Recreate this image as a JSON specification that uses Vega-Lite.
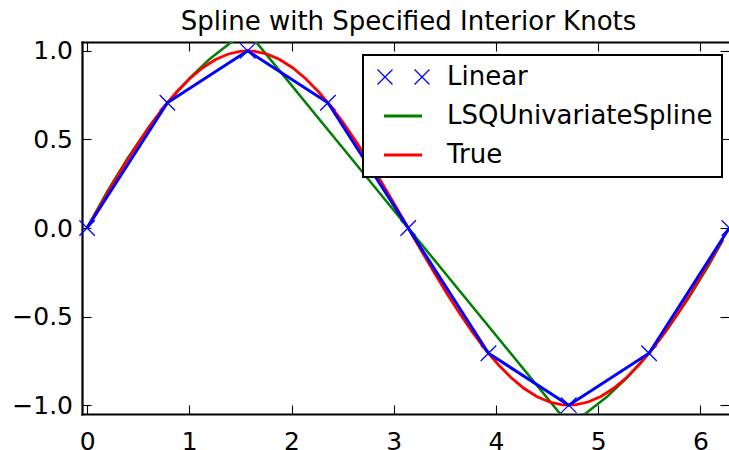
{
  "$schema": "https://vega.github.io/schema/vega-lite/v6.json",
  "width": 647,
  "height": 372,
  "autosize": {"type": "none"},
  "padding": {"left": 82, "top": 42, "right": 0, "bottom": 36},
  "background": "white",
  "title": {"text": "Spline with Specified Interior Knots", "font": "DejaVu Sans", "fontSize": 26, "fontWeight": "normal", "color": "black", "anchor": "middle", "baseline": "alphabetic", "offset": -17, "dx": 3},
  "config": {
    "view": {"stroke": null},
    "axis": {"labelFont": "DejaVu Sans", "labelFontSize": 25, "labelColor": "black", "tickColor": "black", "tickWidth": 1.1, "tickSize": -9, "domainColor": "black", "domainWidth": 2.2, "domainCap": "square", "grid": false, "title": null},
    "legend": {"labelFont": "DejaVu Sans", "labelFontSize": 26, "labelColor": "black", "labelLimit": 500, "padding": 9, "rowPadding": 13, "strokeColor": "black", "fillColor": "white", "strokeWidth": 2, "cornerRadius": 0, "symbolSize": 4, "labelOffset": 49}
  },
  "datasets": {
    "lin": [
      {"series": "Linear", "x": 0, "y": 0},
      {"series": "Linear", "x": 0.7854, "y": 0.7071},
      {"series": "Linear", "x": 1.5708, "y": 1},
      {"series": "Linear", "x": 2.3562, "y": 0.7071},
      {"series": "Linear", "x": 3.1416, "y": 0},
      {"series": "Linear", "x": 3.927, "y": -0.7071},
      {"series": "Linear", "x": 4.7124, "y": -1},
      {"series": "Linear", "x": 5.4978, "y": -0.7071},
      {"series": "Linear", "x": 6.2832, "y": 0}
    ],
    "lsq": [
      {"series": "LSQUnivariateSpline", "x": 0, "y": 0.001},
      {"series": "LSQUnivariateSpline", "x": 0.2, "y": 0.2091},
      {"series": "LSQUnivariateSpline", "x": 0.4, "y": 0.3975},
      {"series": "LSQUnivariateSpline", "x": 0.6, "y": 0.5662},
      {"series": "LSQUnivariateSpline", "x": 0.8, "y": 0.7152},
      {"series": "LSQUnivariateSpline", "x": 1.0, "y": 0.8446},
      {"series": "LSQUnivariateSpline", "x": 1.2, "y": 0.9544},
      {"series": "LSQUnivariateSpline", "x": 1.4, "y": 1.0445},
      {"series": "LSQUnivariateSpline", "x": 1.4708, "y": 1.0716},
      {"series": "LSQUnivariateSpline", "x": 1.52, "y": 1.0832},
      {"series": "LSQUnivariateSpline", "x": 1.57, "y": 1.0816},
      {"series": "LSQUnivariateSpline", "x": 1.62, "y": 1.0666},
      {"series": "LSQUnivariateSpline", "x": 1.6708, "y": 1.0377},
      {"series": "LSQUnivariateSpline", "x": 3.1416, "y": 0},
      {"series": "LSQUnivariateSpline", "x": 4.6124, "y": -1.0377},
      {"series": "LSQUnivariateSpline", "x": 4.6632, "y": -1.0666},
      {"series": "LSQUnivariateSpline", "x": 4.7132, "y": -1.0816},
      {"series": "LSQUnivariateSpline", "x": 4.7632, "y": -1.0832},
      {"series": "LSQUnivariateSpline", "x": 4.8124, "y": -1.0716},
      {"series": "LSQUnivariateSpline", "x": 4.8832, "y": -1.0445},
      {"series": "LSQUnivariateSpline", "x": 5.0832, "y": -0.9544},
      {"series": "LSQUnivariateSpline", "x": 5.2832, "y": -0.8446},
      {"series": "LSQUnivariateSpline", "x": 5.4832, "y": -0.7152},
      {"series": "LSQUnivariateSpline", "x": 5.6832, "y": -0.5662},
      {"series": "LSQUnivariateSpline", "x": 5.8832, "y": -0.3975},
      {"series": "LSQUnivariateSpline", "x": 6.0832, "y": -0.2091},
      {"series": "LSQUnivariateSpline", "x": 6.2204, "y": -0.0685}
    ],
    "tru": [
      {"series": "True", "x": 0, "y": 0},
      {"series": "True", "x": 0.1257, "y": 0.1253},
      {"series": "True", "x": 0.2513, "y": 0.2487},
      {"series": "True", "x": 0.377, "y": 0.3681},
      {"series": "True", "x": 0.5027, "y": 0.4818},
      {"series": "True", "x": 0.6283, "y": 0.5878},
      {"series": "True", "x": 0.754, "y": 0.6845},
      {"series": "True", "x": 0.8796, "y": 0.7705},
      {"series": "True", "x": 1.0053, "y": 0.8443},
      {"series": "True", "x": 1.131, "y": 0.9048},
      {"series": "True", "x": 1.2566, "y": 0.9511},
      {"series": "True", "x": 1.3823, "y": 0.9823},
      {"series": "True", "x": 1.508, "y": 0.998},
      {"series": "True", "x": 1.6336, "y": 0.998},
      {"series": "True", "x": 1.7593, "y": 0.9823},
      {"series": "True", "x": 1.885, "y": 0.9511},
      {"series": "True", "x": 2.0106, "y": 0.9048},
      {"series": "True", "x": 2.1363, "y": 0.8443},
      {"series": "True", "x": 2.2619, "y": 0.7705},
      {"series": "True", "x": 2.3876, "y": 0.6845},
      {"series": "True", "x": 2.5133, "y": 0.5878},
      {"series": "True", "x": 2.6389, "y": 0.4818},
      {"series": "True", "x": 2.7646, "y": 0.3681},
      {"series": "True", "x": 2.8903, "y": 0.2487},
      {"series": "True", "x": 3.0159, "y": 0.1253},
      {"series": "True", "x": 3.1416, "y": 0},
      {"series": "True", "x": 3.2673, "y": -0.1253},
      {"series": "True", "x": 3.3929, "y": -0.2487},
      {"series": "True", "x": 3.5186, "y": -0.3681},
      {"series": "True", "x": 3.6442, "y": -0.4818},
      {"series": "True", "x": 3.7699, "y": -0.5878},
      {"series": "True", "x": 3.8956, "y": -0.6845},
      {"series": "True", "x": 4.0212, "y": -0.7705},
      {"series": "True", "x": 4.1469, "y": -0.8443},
      {"series": "True", "x": 4.2726, "y": -0.9048},
      {"series": "True", "x": 4.3982, "y": -0.9511},
      {"series": "True", "x": 4.5239, "y": -0.9823},
      {"series": "True", "x": 4.6496, "y": -0.998},
      {"series": "True", "x": 4.7752, "y": -0.998},
      {"series": "True", "x": 4.9009, "y": -0.9823},
      {"series": "True", "x": 5.0265, "y": -0.9511},
      {"series": "True", "x": 5.1522, "y": -0.9048},
      {"series": "True", "x": 5.2779, "y": -0.8443},
      {"series": "True", "x": 5.4035, "y": -0.7705},
      {"series": "True", "x": 5.5292, "y": -0.6845},
      {"series": "True", "x": 5.6549, "y": -0.5878},
      {"series": "True", "x": 5.7805, "y": -0.4818},
      {"series": "True", "x": 5.9062, "y": -0.3681},
      {"series": "True", "x": 6.0319, "y": -0.2487},
      {"series": "True", "x": 6.1575, "y": -0.1253},
      {"series": "True", "x": 6.2204, "y": -0.0628}
    ]
  },
  "layer": [
    {
      "data": {"name": "lin"},
      "mark": {"type": "point", "shape": "M-1,-1L1,1M-1,1L1,-1", "size": 240, "filled": false, "strokeWidth": 1.3, "opacity": 1, "clip": false},
      "encoding": {
        "x": {"field": "x", "type": "quantitative", "scale": {"domain": [-0.05, 6.28], "nice": false, "zero": false}, "axis": {"orient": "bottom", "values": [0, 1, 2, 3, 4, 5, 6], "format": "d", "labelBaseline": "alphabetic", "labelPadding": 44, "labelFlush": false, "labelOverlap": false}},
        "y": {"field": "y", "type": "quantitative", "scale": {"domain": [-1.05, 1.05], "nice": false, "zero": false}, "axis": {"orient": "left", "values": [-1, -0.5, 0, 0.5, 1], "format": ".1f", "labelPadding": 18.5, "labelFlush": false, "labelOverlap": false}},
        "color": {"field": "series", "type": "nominal", "scale": {"domain": ["Linear", "LSQUnivariateSpline", "True"], "range": ["#0000ff", "#008000", "#ff0000"]},
          "legend": {"title": null, "orient": "none", "legendX": 281, "legendY": 13,
            "symbolType": {"expr": "datum.value === 'Linear' ? 'M-7.5,-7.5L7.5,7.5M-7.5,7.5L7.5,-7.5M29.5,-7.5L44.5,7.5M29.5,7.5L44.5,-7.5' : 'M-1,0L37,0'"},
            "symbolStrokeWidth": {"expr": "datum.value === 'Linear' ? 1.3 : 2.8"},
            "symbolFillColor": "transparent",
            "symbolOpacity": 1,
            "encode": {"symbols": {
              "shape": {"value": {"expr": "datum.value === 'Linear' ? 'M-7.5,-7.5L7.5,7.5M-7.5,7.5L7.5,-7.5M29.5,-7.5L44.5,7.5M29.5,7.5L44.5,-7.5' : 'M-1,0L37,0'"}},
              "strokeWidth": {"value": {"expr": "datum.value === 'Linear' ? 1.3 : 2.8"}},
              "fill": {"value": "transparent"},
              "size": {"value": 4},
              "opacity": {"value": 1}
            }}
          }}
      }
    },
    {
      "data": {"name": "lsq"},
      "mark": {"type": "line", "strokeWidth": 2.5, "clip": true},
      "encoding": {
        "x": {"field": "x", "type": "quantitative", "axis": null},
        "y": {"field": "y", "type": "quantitative", "axis": null},
        "color": {"field": "series", "type": "nominal",
          "legend": {"title": null, "orient": "none", "legendX": 281, "legendY": 13,
            "symbolType": {"expr": "datum.value === 'Linear' ? 'M-7.5,-7.5L7.5,7.5M-7.5,7.5L7.5,-7.5M29.5,-7.5L44.5,7.5M29.5,7.5L44.5,-7.5' : 'M-1,0L37,0'"},
            "symbolStrokeWidth": {"expr": "datum.value === 'Linear' ? 1.3 : 2.8"},
            "symbolFillColor": "transparent",
            "symbolOpacity": 1}}
      }
    },
    {
      "data": {"name": "tru"},
      "mark": {"type": "line", "strokeWidth": 2.8, "clip": true},
      "encoding": {
        "x": {"field": "x", "type": "quantitative", "axis": null},
        "y": {"field": "y", "type": "quantitative", "axis": null},
        "color": {"field": "series", "type": "nominal",
          "legend": {"title": null, "orient": "none", "legendX": 281, "legendY": 13,
            "symbolType": {"expr": "datum.value === 'Linear' ? 'M-7.5,-7.5L7.5,7.5M-7.5,7.5L7.5,-7.5M29.5,-7.5L44.5,7.5M29.5,7.5L44.5,-7.5' : 'M-1,0L37,0'"},
            "symbolStrokeWidth": {"expr": "datum.value === 'Linear' ? 1.3 : 2.8"},
            "symbolFillColor": "transparent",
            "symbolOpacity": 1}}
      }
    },
    {
      "data": {"name": "lin"},
      "mark": {"type": "line", "strokeWidth": 3, "clip": true},
      "encoding": {
        "x": {"field": "x", "type": "quantitative", "axis": {"orient": "top", "values": [0, 1, 2, 3, 4, 5, 6], "labels": false, "domain": true}},
        "y": {"field": "y", "type": "quantitative", "axis": {"orient": "right", "values": [-1, -0.5, 0, 0.5, 1], "labels": false, "domain": false}},
        "color": {"field": "series", "type": "nominal",
          "legend": {"title": null, "orient": "none", "legendX": 281, "legendY": 13,
            "symbolType": {"expr": "datum.value === 'Linear' ? 'M-7.5,-7.5L7.5,7.5M-7.5,7.5L7.5,-7.5M29.5,-7.5L44.5,7.5M29.5,7.5L44.5,-7.5' : 'M-1,0L37,0'"},
            "symbolStrokeWidth": {"expr": "datum.value === 'Linear' ? 1.3 : 2.8"},
            "symbolFillColor": "transparent",
            "symbolOpacity": 1}}
      }
    }
  ],
  "resolve": {"axis": {"x": "independent", "y": "independent"}}
}
